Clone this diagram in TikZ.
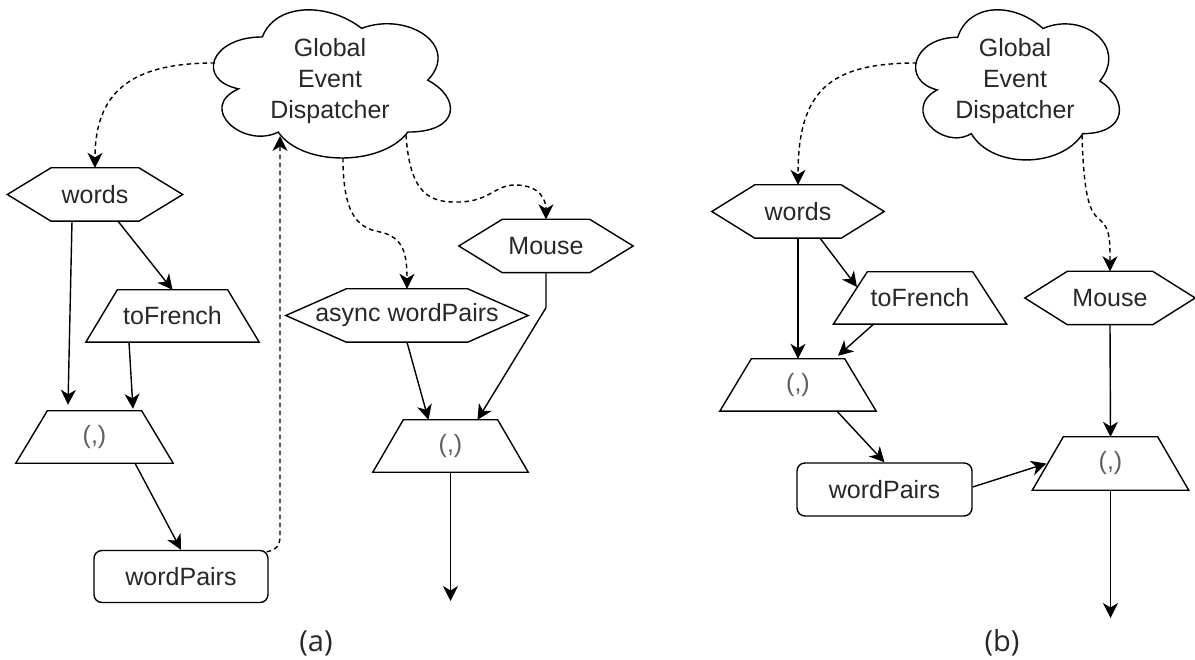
\documentclass[tikz,border=0pt]{standalone}
\usepackage{fontspec}
\setmainfont{Liberation Sans}
\newfontfamily\capfont{Open Sans}
\usetikzlibrary{arrows.meta,calc}
\definecolor{textcol}{RGB}{40,40,40}
\definecolor{paircol}{RGB}{95,95,95}
\newcommand\pairtxt{\textcolor{paircol}{(,)}}
\newcommand\hexnode[5]{%
 \node[txt, minimum width=#4pt, minimum height=53pt] (#1) at (#2,#3) {#5};
 \draw[shapeline] (#1.west) -- ([xshift=0.25*#4pt]#1.north west) -- ([xshift=-0.25*#4pt]#1.north east) -- (#1.east) -- ([xshift=-0.25*#4pt]#1.south east) -- ([xshift=0.25*#4pt]#1.south west) -- cycle;}
\newcommand\trapnode[7]{%
 \node[txt, minimum width=#5pt, minimum height=#6pt] (#1) at (#2,#3) {#7};
 \draw[shapeline] (#1.south west) -- (#1.south east) -- ([xshift={-(#5-#4)/2*1pt}]#1.north east) -- ([xshift={(#5-#4)/2*1pt}]#1.north west) -- cycle;}
\newcommand\cloudshape[4]{%
 \begin{scope}[shift={(#1,#2)},x=#3pt,y=-#4pt]
 \draw[shapeline] (0.25,0.25) .. controls (0.05,0.25) and (0,0.5) .. (0.16,0.55)
  .. controls (0,0.66) and (0.18,0.9) .. (0.31,0.8)
  .. controls (0.4,1) and (0.7,1) .. (0.8,0.8)
  .. controls (1,0.8) and (1,0.6) .. (0.875,0.5)
  .. controls (1,0.3) and (0.8,0.1) .. (0.625,0.2)
  .. controls (0.5,0.05) and (0.3,0.05) .. (0.25,0.25) -- cycle;
 \end{scope}}
\tikzset{
 txt/.style={inner sep=0pt, text=textcol, font=\fontsize{25}{30}\selectfont},
 cloudtxt/.style={txt, align=center, font=\fontsize{25}{31}\selectfont},
 shapeline/.style={line width=1.4pt, line join=miter, draw=black},
 wpbox/.style={txt, draw=black, line width=1.4pt, rounded corners=8pt, minimum width=174pt, minimum height=52pt},
 labtxt/.style={inner sep=0pt, text=textcol, font=\capfont\fontsize{29}{33}\selectfont},
 arr/.style={line width=1.4pt, -{Stealth[length=15pt,width=15pt,inset=4.5pt]}},
 dsh/.style={arr, dash pattern=on 4.5pt off 3.5pt}
}
\begin{document}
\begin{tikzpicture}[x=1pt,y=-1pt]
\fill[white] (0,0) rectangle (1195,660);
\useasboundingbox (0,0) rectangle (1195,660);
% ---------- panel (a)
\node[cloudtxt] (cloudA) at (330,81) {Global\\Event\\Dispatcher};
\cloudshape{196.2}{-6.25}{264.6}{172.9}
\hexnode{wordsA}{95}{194.5}{175}{words}
\trapnode{toFrenchA}{172.5}{316}{110}{173}{52}{toFrench}
\trapnode{pairA}{94.5}{437}{94}{157}{52}{\pairtxt}
\node[wpbox] (wpA) at (181,576.5) {wordPairs};
\hexnode{asyncA}{407}{315.5}{242}{async wordPairs}
\hexnode{mouseA}{546}{246}{174}{Mouse}
\trapnode{pair2A}{450.5}{446}{94}{155}{52}{\pairtxt}
\coordinate (outA) at (450.5,601);
\node[labtxt] (labA) at (316,643) {(a)};
\draw[dsh] ($(cloudA)+(-115,-18)$) .. controls (140,63) and (95,85) .. (wordsA.north);
\draw[dsh] ($(cloudA)+(13,77)$) .. controls (343,215) and (358,228) .. (380,232) .. controls (404,237) and (407,255) .. (asyncA.north);
\draw[dsh] ($(cloudA)+(76,54)$) .. controls (410,195) and (430,203) .. (460,202) .. controls (490,201) and (495,185) .. (515,185) .. controls (540,185) and (546,200) .. (mouseA.north);
\draw[dsh] ([xshift=-2pt,yshift=-2pt]wpA.north east) .. controls (276,550) and (280,546) .. (280,536) -- ($(cloudA)+(-50,55)$);
\draw[arr] ([xshift=-23pt]wordsA.south) -- ([xshift=-26.5pt,yshift=6pt]pairA.north);
\draw[arr] ([xshift=23pt]wordsA.south) -- (toFrenchA.north);
\draw[arr] ([xshift=-43.5pt]toFrenchA.south) -- ([xshift=38.5pt,yshift=2pt]pairA.north);
\draw[arr] ([xshift=40.5pt]pairA.south) -- (wpA.north);
\draw[arr] (asyncA.south) -- ([xshift=-22pt]pair2A.north);
\draw[arr] (mouseA.south) -- ++(0,35) -- ([xshift=27pt]pair2A.north);
\draw[arr] (pair2A.south) -- (outA);
% ---------- panel (b)
\node[cloudtxt] (cloudB) at (1015,81) {Global\\Event\\Dispatcher};
\cloudshape{900.8}{-6.5}{227.5}{175.2}
\hexnode{wordsB}{798}{211.5}{172}{words}
\trapnode{toFrenchB}{920}{298}{105}{173}{52}{toFrench}
\trapnode{pairB}{798}{385}{93}{156}{52}{\pairtxt}
\node[wpbox, minimum width=175pt, minimum height=53pt] (wpB) at (884.5,489.5) {wordPairs};
\hexnode{mouseB}{1110}{298}{170}{Mouse}
\trapnode{pair2B}{1110.5}{463.5}{94}{156}{53}{\pairtxt}
\coordinate (outB) at (1110.5,618);
\node[labtxt] (labB) at (1002,643) {(b)};
\draw[dsh] ($(cloudB)+(-98,-18)$) .. controls (830,63) and (798,90) .. (wordsB.north);
\draw[dsh] ($(cloudB)+(67,54)$) .. controls (1084,200) and (1090,212) .. (1100,220) .. controls (1110,228) and (1110,240) .. (mouseB.north);
\draw[arr] (wordsB.south) -- (pairB.north);
\draw[arr] ([xshift=22pt]wordsB.south) -- ($(toFrenchB)+(-63,-11)$);
\draw[arr] ([xshift=-46.5pt]toFrenchB.south) -- ([xshift=40pt,yshift=3pt]pairB.north);
\draw[arr] ([xshift=39pt]pairB.south) -- (wpB.north);
\draw[arr] ([yshift=2.5pt]wpB.east) -- ([xshift=14pt]pair2B.west);
\draw[arr] (mouseB.south) -- (pair2B.north);
\draw[arr] (pair2B.south) -- (outB);
\end{tikzpicture}
\end{document}
